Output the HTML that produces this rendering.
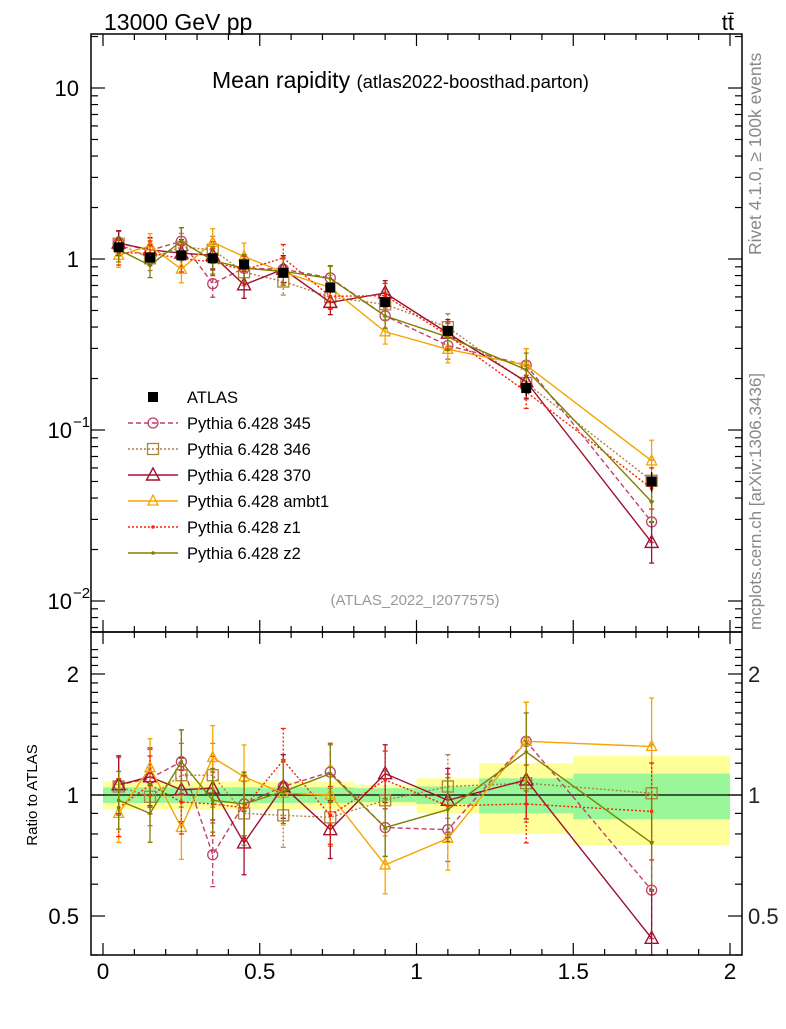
<!DOCTYPE html>
<html><head><meta charset="utf-8"><style>
body{margin:0;background:#fff}
svg text{font-family:"Liberation Sans",sans-serif}
</style></head><body>
<svg id="c" width="786" height="1024" xmlns="http://www.w3.org/2000/svg">
<text x="104" y="30" font-size="23">13000 GeV pp</text>
<text x="734" y="30" font-size="22" text-anchor="end">tt̄</text>
<text x="212" y="88" font-size="23">Mean rapidity <tspan font-size="18.5">(atlas2022-boosthad.parton)</tspan></text>
<text x="415" y="605" font-size="15" fill="#999" text-anchor="middle">(ATLAS_2022_I2077575)</text>
<text transform="translate(761,255) rotate(-90)" font-size="17.5" fill="#888">Rivet 4.1.0, ≥ 100k events</text>
<text transform="translate(761,630) rotate(-90)" font-size="17" fill="#888">mcplots.cern.ch [arXiv:1306.3436]</text>
<text transform="translate(37,795) rotate(-90)" font-size="15" text-anchor="middle">Ratio to ATLAS</text>
<g id="bands"></g><g id="series"></g><g id="axes"></g><g id="legend"></g>
</svg>
<script>
const binEdges=[0,0.1,0.2,0.3,0.4,0.5,0.65,0.8,1.0,1.2,1.5,2.0];
const xCenters=[0.05,0.15,0.25,0.35,0.45,0.575,0.725,0.9,1.1,1.35,1.75];
const atlasVals=[1.17,1.02,1.05,1.01,0.93,0.83,0.68,0.56,0.38,0.176,0.05];
const atlasErr=[0.04,0.04,0.04,0.04,0.04,0.04,0.04,0.05,0.05,0.1,0.13];
const bandTotal=[0.08,0.08,0.08,0.08,0.08,0.08,0.08,0.06,0.10,0.20,0.25];
const bandStat=[0.045,0.045,0.045,0.045,0.045,0.045,0.045,0.04,0.05,0.10,0.13];
const modelErr=[0.18,0.18,0.2,0.2,0.2,0.2,0.18,0.18,0.2,0.25,0.32];
const r345=[1.06,1.10,1.21,0.71,0.95,1.05,1.14,0.83,0.82,1.36,0.58];
const r346=[1.05,0.99,1.12,1.12,0.90,0.89,0.88,0.97,1.05,1.07,1.01];
const r370=[1.06,1.11,1.03,1.04,0.76,1.05,0.82,1.13,0.97,1.09,0.44];
const rAmbt1=[0.90,1.17,0.83,1.24,1.11,1.01,1.00,0.67,0.78,1.36,1.32];
const rZ1=[0.93,1.06,0.96,0.95,0.93,1.22,0.89,1.09,0.94,0.95,0.91];
const rZ2=[0.97,0.90,1.21,0.97,0.95,1.02,1.13,0.83,0.92,1.28,0.76];
const mainTicks=["10","1","10","10"];
const ratioTicks=[2,1,0.5];
const xTicks=[0,0.5,1,1.5,2];

const NS="http://www.w3.org/2000/svg";
const X=v=>103+v*313.5;
const Ym=v=>259-171*Math.log10(v);
const Yr=v=>795-402*Math.log10(v);
function mk(tag,attrs,parent){const e=document.createElementNS(NS,tag);for(const k in attrs)e.setAttribute(k,attrs[k]);parent.appendChild(e);return e;}
const gB=document.getElementById('bands'),gS=document.getElementById('series'),gA=document.getElementById('axes'),gL=document.getElementById('legend');
const L=91,R=742,T=34,M=632,B=955;

for(let i=0;i<xCenters.length;i++){
  const x0=X(binEdges[i]),x1=X(binEdges[i+1]);
  const y=mk('rect',{x:x0,y:Yr(1+bandTotal[i]),width:x1-x0,height:Yr(1-bandTotal[i])-Yr(1+bandTotal[i]),fill:'#ffff99'},gB);
  
  
  const g=mk('rect',{x:x0,y:Yr(1+bandStat[i]),width:x1-x0,height:Yr(1-bandStat[i])-Yr(1+bandStat[i]),fill:'#99f799'},gB);
  
  
}
const one=mk('line',{x1:L,x2:R,y1:Yr(1),y2:Yr(1),stroke:'#000','stroke-width':1.2},gB);



const models=[
 {n:'Pythia 6.428 345',r:r345,c:'#c0406a',d:'5,3',m:'circle',k:'series-345'},
 {n:'Pythia 6.428 346',r:r346,c:'#b08040',d:'2,2',m:'square',k:'series-346'},
 {n:'Pythia 6.428 370',r:r370,c:'#a01030',d:'',m:'tri',k:'series-370'},
 {n:'Pythia 6.428 ambt1',r:rAmbt1,c:'#f5a500',d:'',m:'trismall',k:'series-ambt1'},
 {n:'Pythia 6.428 z1',r:rZ1,c:'#ff2000',d:'2,2',m:'dot',k:'series-z1'},
 {n:'Pythia 6.428 z2',r:rZ2,c:'#808000',d:'',m:'dot',k:'series-z2'}];

function marker(m,x,y,c,parent){
  let e;
  if(m==='circle')e=mk('circle',{cx:x,cy:y,r:5,fill:'none',stroke:c,'stroke-width':1.3},parent);
  else if(m==='square')e=mk('rect',{x:x-5.5,y:y-5.5,width:11,height:11,fill:'none',stroke:c,'stroke-width':1.3},parent);
  else if(m==='tri')e=mk('polygon',{points:`${x},${y-7} ${x-6.5},${y+5} ${x+6.5},${y+5}`,fill:'none',stroke:c,'stroke-width':1.4},parent);
  else if(m==='trismall')e=mk('polygon',{points:`${x},${y-6} ${x-5},${y+4} ${x+5},${y+4}`,fill:'none',stroke:c,'stroke-width':1.3},parent);
  else if(m==='dot')e=mk('circle',{cx:x,cy:y,r:1.8,fill:c},parent);
  else e=mk('rect',{x:x-5,y:y-5,width:10,height:10,fill:c},parent);
  return e;
}
function errbar(x,y1,y2,c,d,parent){
  mk('line',{x1:x,x2:x,y1:y1,y2:y2,stroke:c,'stroke-width':1.3,'stroke-dasharray':d},parent);
  mk('line',{x1:x-2.5,x2:x+2.5,y1:y1,y2:y1,stroke:c,'stroke-width':1.3},parent);
  mk('line',{x1:x-2.5,x2:x+2.5,y1:y2,y2:y2,stroke:c,'stroke-width':1.3},parent);
}
models.forEach(md=>{
  const g=mk('g',{},gS);
  
  
  const vals=md.r.map((r,i)=>r*atlasVals[i]);
  const pm=vals.map((v,i)=>X(xCenters[i])+','+Ym(v)).join(' ');
  const pr=md.r.map((v,i)=>X(xCenters[i])+','+Yr(v)).join(' ');
  mk('polyline',{points:pm,fill:'none',stroke:md.c,'stroke-width':1.4,'stroke-dasharray':md.d},g);
  mk('polyline',{points:pr,fill:'none',stroke:md.c,'stroke-width':1.4,'stroke-dasharray':md.d},g);
  vals.forEach((v,i)=>{
    const x=X(xCenters[i]),e=modelErr[i];
    errbar(x,Ym(v*(1+e)),Ym(v/(1+e)),md.c,md.d,g);
    errbar(x,Math.max(M,Yr(md.r[i]*(1+e))),Math.min(B,Yr(md.r[i]/(1+e))),md.c,md.d,g);
    marker(md.m,x,Ym(v),md.c,g);
    marker(md.m,x,Yr(md.r[i]),md.c,g);
  });
});
const gd=mk('g',{},gS);


atlasVals.forEach((v,i)=>{
  const x=X(xCenters[i]);
  mk('line',{x1:x,x2:x,y1:Ym(v*(1+atlasErr[i])),y2:Ym(v*(1-atlasErr[i])),stroke:'#000','stroke-width':1.3},gd);
  marker('data',x,Ym(v),'#000',gd);
});

[[T,M],[M,B]].forEach(([t,b],j)=>{
  const f=mk('rect',{x:L,y:t,width:R-L,height:b-t,fill:'none',stroke:'#000','stroke-width':1.5},gA);
  
  
});
for(let v=0;v<=2.0001;v+=0.1){
  const x=X(v),maj=Math.abs(v*2-Math.round(v*2))<1e-6,l=maj?12:6;
  [[T,1],[M,-1],[M,1],[B,-1]].forEach(([y,s])=>mk('line',{x1:x,x2:x,y1:y,y2:y+s*l,stroke:'#000','stroke-width':1.2},gA));
}
xTicks.forEach(v=>{const t=mk('text',{x:X(v),y:979,'font-size':22.5,'text-anchor':'middle'},gA);t.textContent=v;
  
  });
for(let d=-3;d<=1;d++){for(let k=1;k<=9;k++){const v=k*Math.pow(10,d);const y=Ym(v);if(y<T||y>M)continue;const l=k===1?14:7;
  mk('line',{x1:L,x2:L+l,y1:y,y2:y,stroke:'#000','stroke-width':1.2},gA);
  mk('line',{x1:R,x2:R-l,y1:y,y2:y,stroke:'#000','stroke-width':1.2},gA);}}
[[10,'10',''],[1,'1',''],[0.1,'10','−1'],[0.01,'10','−2']].forEach(([v,b,e],i)=>{
  const t=mk('text',{x:e?72:79,y:Ym(v)+8,'font-size':22,'text-anchor':'end'},gA);t.textContent=mainTicks[i];
  
  
  if(e){const s=mk('text',{x:73,y:Ym(v)-3,'font-size':15},gA);s.textContent=e;}
});
for(let v=0.4;v<=2.31;v+=0.1){const y=Yr(v);if(y<M||y>B)continue;const maj=[0.5,1,2].some(q=>Math.abs(q-v)<1e-6);const l=maj?14:7;
  mk('line',{x1:L,x2:L+l,y1:y,y2:y,stroke:'#000','stroke-width':1.2},gA);
  mk('line',{x1:R,x2:R-l,y1:y,y2:y,stroke:'#000','stroke-width':1.2},gA);}
ratioTicks.forEach(v=>{
  const t=mk('text',{x:79,y:Yr(v)+8,'font-size':22,'text-anchor':'end'},gA);t.textContent=v;
  
  
  const t2=mk('text',{x:748,y:Yr(v)+8,'font-size':22,fill:'#222'},gA);t2.textContent=v;
  
  
});
const ld=mk('g',{},gL);


marker('data',153,397,'#000',ld);
mk('text',{x:187,y:403,'font-size':16.5},ld).textContent='ATLAS';
models.forEach((md,i)=>{
  const y=423+i*26;
  const g=mk('g',{},gL);
  
  
  mk('line',{x1:128,x2:178,y1:y,y2:y,stroke:md.c,'stroke-width':1.4,'stroke-dasharray':md.d},g);
  marker(md.m,153,y,md.c,g);
  mk('text',{x:187,y:y+6,'font-size':16.5},g).textContent=md.n;
});
</script>
</body></html>
